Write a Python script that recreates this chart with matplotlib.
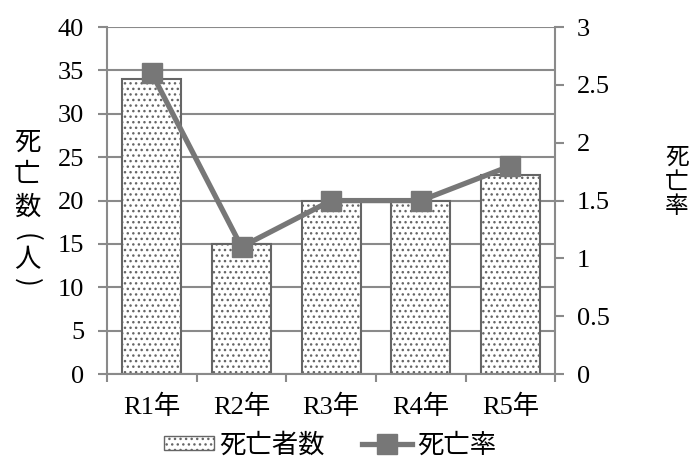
import numpy as np
import matplotlib.pyplot as plt
from matplotlib.lines import Line2D
from matplotlib.patches import Patch

years = ['R1年', 'R2年', 'R3年', 'R4年', 'R5年']
deaths = [34, 15, 20, 20, 23]
rate = [2.6, 1.1, 1.5, 1.5, 1.8]

serif = ['Liberation Serif', 'Noto Sans CJK JP']
sans = ['Noto Sans CJK JP', 'DejaVu Sans']
grey = '#8a8a8a'
plt.rcParams['font.family'] = serif
plt.rcParams['hatch.color'] = '#666666'
plt.rcParams['hatch.linewidth'] = 1.0

fig = plt.figure(figsize=(6.95, 4.59), dpi=100)
ax = fig.add_axes([0.154, 0.185, 0.645, 0.756])
x = np.arange(len(years))

ax.bar(x, deaths, width=0.66, color='white', edgecolor='#666666',
       linewidth=1.5, hatch='...', zorder=2)
ax.set_xlim(-0.5, 4.5)
ax.set_ylim(0, 40)
ax.set_yticks(range(0, 41, 5))
ax.grid(axis='y', color=grey, linewidth=1.5, zorder=0)
ax.set_xticks(np.arange(-0.5, 5, 1))
ax.set_xticklabels([])
ax.set_xticks(x, minor=True)
ax.set_xticklabels(years, minor=True, fontsize=19)
ax.tick_params(axis='x', which='minor', length=0, pad=15)
ax.tick_params(axis='x', which='major', length=6, width=1.5, color=grey)
ax.tick_params(axis='y', length=6.5, width=1.5, color=grey, labelsize=19, pad=10)
for s in ['top', 'right']:
    ax.spines[s].set_visible(False)
for s in ['left', 'bottom']:
    ax.spines[s].set_color(grey)
    ax.spines[s].set_linewidth(1.5)

ax2 = ax.twinx()
ax2.plot(x, rate, color='#777777', linewidth=3.8, marker='s',
         markersize=15, zorder=3)
ax2.set_ylim(0, 3)
ax2.set_yticks([0, 0.5, 1, 1.5, 2, 2.5, 3])
ax2.set_yticklabels(['0', '0.5', '1', '1.5', '2', '2.5', '3'])
ax2.tick_params(axis='y', length=6.5, width=1.5, color=grey, labelsize=19, pad=9)
for s in ['top', 'left', 'bottom']:
    ax2.spines[s].set_visible(False)
ax2.spines['right'].set_color(grey)
ax2.spines['right'].set_linewidth(1.5)

# vertical y-axis titles, one glyph at a time
left_chars = [('死', 142, 0), ('亡', 174, 0), ('数', 207, 0),
              ('(', 237, -90), ('人', 260, 0), (')', 282, -90)]
for ch, yp, rot in left_chars:
    fig.text(27 / 695, 1 - yp / 459, ch, ha='center', va='center',
             fontsize=19, family=sans, rotation=rot)
for ch, yp in [('死', 157), ('亡', 182), ('率', 206)]:
    fig.text(677 / 695, 1 - yp / 459, ch, ha='center', va='center',
             fontsize=17, family=sans)

handles = [Patch(facecolor='white', edgecolor='#666666', hatch='...', linewidth=1),
           Line2D([0], [0], color='#777777', linewidth=3.8, marker='s', markersize=15)]
fig.legend(handles, ['死亡者数', '死亡率'], loc='center', bbox_to_anchor=(0.475, 0.03),
           ncol=2, frameon=False, prop={'family': sans, 'size': 19},
           handlelength=1.9, handleheight=0.45, columnspacing=1.4, handletextpad=0.2,
           borderaxespad=0, borderpad=0)

fig.savefig('out.png', dpi=100)
